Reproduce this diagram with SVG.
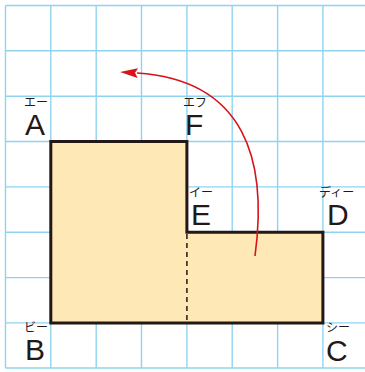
<svg xmlns="http://www.w3.org/2000/svg" width="365" height="372" viewBox="0 0 365 372">
<style>
.grid line{stroke:#8fd3f1;stroke-width:1.4}
.shape{fill:#fee9b6;stroke:#231815;stroke-width:3;stroke-linejoin:miter}
.dash{stroke:#231815;stroke-width:1.5;stroke-dasharray:5 4;fill:none}
.lbl{font-family:"Liberation Sans",Arial,sans-serif;font-size:30px;fill:#231815}
.kana{font-family:"Noto Sans CJK JP","Noto Sans",sans-serif;font-size:12px;fill:#231815}
.arc{fill:none;stroke:#d7141a;stroke-width:1.6}
</style>
<defs>
<marker id="ah" markerWidth="18" markerHeight="10" refX="1" refY="5" orient="auto" markerUnits="userSpaceOnUse">
<path d="M0,0 L18,5 L0,10 L3,5 Z" fill="#d7141a"/>
</marker>
</defs>
<rect width="365" height="372" fill="#fff"/>
<g class="grid" id="grid">
<line x1="5.5" y1="5.5" x2="5.5" y2="368"/>
<line x1="50.8" y1="5.5" x2="50.8" y2="368"/>
<line x1="96.2" y1="5.5" x2="96.2" y2="368"/>
<line x1="141.5" y1="5.5" x2="141.5" y2="368"/>
<line x1="186.9" y1="5.5" x2="186.9" y2="368"/>
<line x1="232.2" y1="5.5" x2="232.2" y2="368"/>
<line x1="277.6" y1="5.5" x2="277.6" y2="368"/>
<line x1="322.9" y1="5.5" x2="322.9" y2="368"/>
<line x1="368.2" y1="5.5" x2="368.2" y2="368"/>
<line x1="5.5" y1="5.5" x2="368.2" y2="5.5"/>
<line x1="5.5" y1="50.8" x2="368.2" y2="50.8"/>
<line x1="5.5" y1="96.2" x2="368.2" y2="96.2"/>
<line x1="5.5" y1="141.5" x2="368.2" y2="141.5"/>
<line x1="5.5" y1="186.9" x2="368.2" y2="186.9"/>
<line x1="5.5" y1="232.2" x2="368.2" y2="232.2"/>
<line x1="5.5" y1="277.6" x2="368.2" y2="277.6"/>
<line x1="5.5" y1="322.9" x2="368.2" y2="322.9"/>
<line x1="5.5" y1="368" x2="368.2" y2="368"/>
</g>
<g id="figure">
<polygon class="shape" points="50.8,141.5 186.9,141.5 186.9,232.2 322.9,232.2 322.9,322.9 50.8,322.9"/>
<line class="dash" x1="186.9" y1="234" x2="186.9" y2="321"/>
</g>
<g id="labels">
<g id="pA"><text class="kana" x="24" y="106.5">エー</text><text class="lbl" x="25" y="134.5">A</text></g>
<g id="pF"><text class="kana" x="183" y="106.5">エフ</text><text class="lbl" x="185" y="135">F</text></g>
<g id="pE"><text class="kana" x="189" y="196.5">イー</text><text class="lbl" x="191" y="224.5">E</text></g>
<g id="pD"><text class="kana" x="319" y="196.5">ディー</text><text class="lbl" x="327" y="224.5">D</text></g>
<g id="pC"><text class="kana" x="326" y="331.5">シー</text><text class="lbl" x="326" y="360.5">C</text></g>
<g id="pB"><text class="kana" x="24" y="331.5">ビー</text><text class="lbl" x="25" y="360">B</text></g>
</g>
<g id="connectors">
<path class="arc" d="M255,256 C268,160 245,80 137,73" marker-end="url(#ah)"/>
</g>
</svg>
